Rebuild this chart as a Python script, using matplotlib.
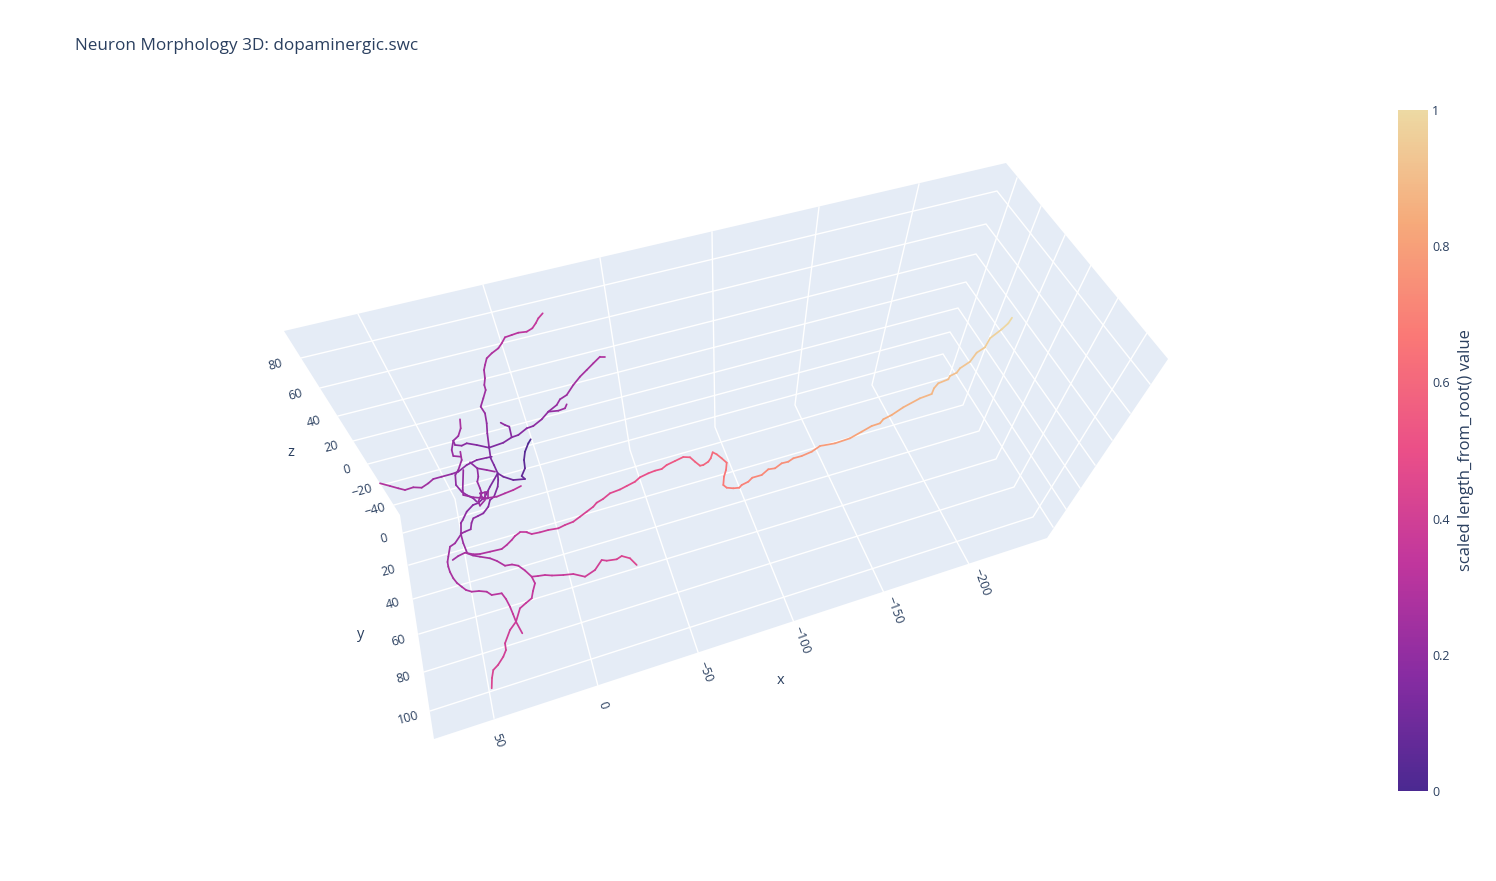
import numpy as np
import matplotlib
matplotlib.use("Agg")
import matplotlib.pyplot as plt
from matplotlib.collections import LineCollection
from matplotlib.colors import LinearSegmentedColormap, Normalize
from matplotlib.cm import ScalarMappable

plt.rcParams['font.family'] = ['Open Sans', 'DejaVu Sans']

TITLE = "Neuron Morphology 3D: dopaminergic.swc"
INK = "#2a3f5f"
WALL = "#E5ECF6"
AGSUNSET = ["#4b2991", "#872ca2", "#c0369d", "#ea4f88", "#fa7876", "#f6a97a", "#edd9a3"]

# Scene outline, as projected on the picture (pixels)
wall_x = [284, 1006, 1168, 1047, 434, 400]
wall_y = [331, 163, 359, 538, 739, 515]

# Grid lines, projected: each has start, bend on the wall seam, end
x_ticks = ["50", "0", "\u221250", "\u2212100", "\u2212150", "\u2212200"]
x_grid_ax = [358, 483, 600, 712, 819, 919]
x_grid_ay = [314, 285, 258, 232, 207, 184]
x_grid_bx = [455, 543, 630, 715, 795, 872]
x_grid_by = [499, 475, 450, 427, 405, 385]
x_grid_cx = [494, 598, 699, 795, 885, 970]
x_grid_cy = [718, 686, 655, 625, 595, 566]
x_label_x = [498, 603, 705, 802, 895, 982]
x_label_y = [740, 705, 672, 640, 610, 582]

y_ticks = ["0", "20", "40", "60", "80", "100"]
y_grid_ax = [403, 409, 413, 419, 424, 430]
y_grid_ay = [533, 565, 599, 634, 672, 711]
y_grid_bx = [949, 963, 979, 996, 1014, 1033]
y_grid_by = [377, 405, 431, 459, 487, 517]
y_grid_cx = [1017, 1041, 1065, 1091, 1118, 1147]
y_grid_cy = [178, 206, 235, 265, 298, 333]
y_label_x = [384, 388, 393, 398, 403, 408]
y_label_y = [539, 571, 604, 641, 678, 718]

z_ticks = ["80", "60", "40", "20", "0", "\u221220", "\u221240"]
z_grid_ax = [301, 320, 338, 353, 368, 382, 394]
z_grid_ay = [358, 388, 416, 441, 464, 485, 505]
z_grid_bx = [997, 986, 976, 966, 958, 950, 943]
z_grid_by = [191, 224, 254, 282, 308, 332, 354]
z_grid_cx = [1150, 1130, 1112, 1095, 1080, 1066, 1053]
z_grid_cy = [384, 413, 440, 465, 488, 509, 527]
z_label_x = [275, 295, 314, 331, 347, 362, 375]
z_label_y = [365, 395, 422, 447, 470, 491, 510]

# Neuron branches, with scaled length_from_root
long_x = [452.7, 458.3, 465, 473.3, 480, 490, 501.7, 506.7, 511.7, 515, 520, 526.7, 531.7, 540, 548.3, 558.3, 565,
          573.3, 580, 586.7, 593.3, 596.7, 603, 610, 620, 626.7, 635, 640, 648.3, 655, 661.7, 666.7, 675, 683.3, 690,
          695, 700, 703.3, 708.3, 710.7, 712.7, 716.7, 721.7, 726.7, 726, 724, 723.3, 726.7, 733.3, 739.3, 741.7,
          748.3, 752.3, 761.7, 768.3, 775, 781.7, 788.3, 793.3, 801.7, 811.7, 820, 835, 850, 861.7, 871.7, 880, 883.3,
          891.7, 903.3, 920, 931.7, 934, 938.3, 948.3, 950, 956.7, 960, 970, 976.7, 985, 990, 1001.7, 1008.3, 1012]
long_y = [560, 556, 552.7, 554.3, 554, 551.7, 549, 545, 540, 536, 532.3, 532.3, 534, 532.3, 530, 528.3, 525,
          521.7, 516.7, 511.7, 506.7, 502.7, 499, 493.3, 489.5, 486, 481.7, 477.3, 473.3, 470.7, 469, 465, 461, 457, 457.3,
          461.7, 465.7, 465, 461.7, 458.3, 452.3, 454.3, 458.3, 462.7, 470, 476.7, 485, 487.7, 488.3, 487.7, 485,
          481.7, 477.7, 475, 469.3, 468.3, 463.3, 461.7, 458.3, 456, 451.7, 446, 443.3, 438.3, 431.7, 426, 423.3, 419.3,
          415, 407.3, 398.3, 394, 388.3, 383.3, 379.3, 376, 372.7, 368.3, 361.7, 352.7, 347.3, 338.3, 329.3, 323.3, 317.7]
long_v = [.24, .25, .26, .27, .28, .29, .30, .31, .32, .33, .34, .35, .35, .36, .37, .38, .39,
          .40, .41, .42, .43, .43, .44, .45, .46, .47, .48, .49, .50, .51, .52, .53, .54, .55, .56,
          .57, .58, .585, .59, .60, .61, .62, .63, .64, .65, .66, .67, .675, .68, .69, .695,
          .70, .71, .72, .73, .735, .74, .75, .755, .76, .77, .78, .79, .80, .81, .82, .83, .835,
          .84, .85, .87, .88, .885, .89, .90, .905, .91, .92, .93, .94, .95, .96, .98, .99, 1.0]

top_x = [542.7, 538.3, 535.7, 532.3, 526.7, 518.3, 511.7, 505, 501.7, 498.3, 491.7, 486.7, 485, 484, 485, 484.3, 485.7,
         483.3, 480.7, 485, 486.7, 487.3, 489]
top_y = [313.3, 318.3, 323.3, 328.3, 331.7, 332.7, 335, 337.3, 343.3, 348.3, 353.3, 358.3, 365, 370, 378.3, 385, 390,
         398.3, 406.7, 413.3, 423.3, 433.3, 446.7]
top_v = [.36, .355, .35, .34, .33, .32, .31, .30, .295, .29, .28, .27, .265, .26, .25, .245, .24, .23, .22, .21, .20, .19, .18]

trunk_x = [489, 490.7, 494, 497.7, 498.2, 497.7, 494, 490, 488.3, 483.3, 478, 473.3, 471.5, 470.7, 465, 461.7, 455, 450, 448.3, 447.5, 448.3,
           450, 453.3, 457, 461.7, 466, 471.7, 479, 486.7, 491.7, 501.7, 506, 510, 513, 516, 522.3]
trunk_y = [446.7, 458.3, 465, 473.3, 480, 486.7, 496.7, 500, 506.7, 513.3, 516, 518.3, 523, 529.3, 531.7, 533.3, 543.3, 546.7, 556.7, 562, 566.7,
           572, 578.3, 583, 586.7, 590, 591.7, 591, 591.7, 595, 593.3, 599, 606.7, 614, 621.7, 633.3]
trunk_v = [.16, .15, .14, .13, .135, .14, .15, .16, .17, .18, .185, .19, .195, .20, .21, .22, .23, .24, .25, .255, .26,
           .265, .27, .275, .28, .285, .29, .295, .30, .31, .32, .33, .34, .35, .36, .38]

lower_x = [497.7, 490, 485, 478.3, 473, 466.7, 462.7, 460.7, 460.7, 463.3, 467.3, 473, 480, 490, 497, 505, 512, 518.3, 525, 531.7]
lower_y = [473.3, 486.7, 496.7, 503, 505, 511.7, 520, 523.3, 533.3, 543.3, 553.3, 555.5, 556.7, 558.3, 561, 565.7, 564.5, 565.7, 570.5, 576.7]
lower_v = [.13, .14, .15, .16, .17, .18, .19, .20, .21, .22, .23, .24, .25, .27, .28, .29, .30, .31, .32, .33]

south_x = [531.7, 535, 533, 531.7, 526, 520, 516, 510, 505, 506, 503.3, 498, 493.3, 492, 491.7]
south_y = [576.7, 583.3, 591, 598.3, 603, 608.3, 621.7, 630, 643.3, 650, 656.7, 665, 670, 678, 688.3]
south_v = [.33, .34, .345, .35, .36, .365, .37, .38, .39, .395, .40, .41, .42, .43, .44]

east_x = [531.7, 538, 545, 552, 563.3, 573.3, 585, 595, 601.7, 606.7, 616.7, 621.7, 630, 636.7]
east_y = [576.7, 576, 575, 575.5, 575, 574, 576.7, 570, 560, 560.7, 559.3, 556, 558.3, 565]
east_v = [.33, .34, .345, .35, .36, .37, .38, .39, .40, .41, .42, .43, .44, .45]

ne_x = [489, 503.3, 511.7, 518.3, 526.7, 533.3, 541.7, 548.3, 556.7, 560, 566.7, 573.3, 580, 586.7, 593.3, 600, 605]
ne_y = [447.7, 442.7, 437.3, 435, 428.3, 426, 419.3, 411.7, 405, 399.3, 395, 385, 376.7, 370, 363.3, 356.7, 356.7]
ne_v = [.14, .15, .16, .165, .17, .18, .19, .20, .21, .22, .23, .24, .25, .26, .27, .28, .285]

ne_sub_x = [548.3, 558.3, 565, 566.7]
ne_sub_y = [411.7, 410.7, 408.3, 404.3]
ne_sub_v = [.20, .22, .23, .24]

nw_sub_x = [511.7, 509.3, 505, 500.7]
nw_sub_y = [437.3, 426.7, 425, 422.7]
nw_sub_v = [.16, .18, .19, .20]

west_x = [489, 476.7, 466.7, 461.7, 455, 453.3, 458.3, 460.7, 460]
west_y = [447.7, 445, 443.3, 445.7, 445, 440.7, 436, 428.3, 419.3]
west_v = [.14, .16, .17, .18, .19, .20, .22, .25, .28]

loop_x = [453.3, 451.7, 453.3, 460.7]
loop_y = [440.7, 450, 456, 456.7]
loop_v = [.20, .21, .22, .23]

drop_x = [460.3, 461.7, 458.3, 455.3, 456, 461.7, 466.7, 473.3, 476.7]
drop_y = [451.7, 460, 470, 475, 485, 491.7, 495, 498.3, 501.7]
drop_v = [.25, .24, .22, .20, .19, .18, .18, .18, .17]

lowrun_x = [463.3, 462.7, 463.3, 473.3, 485, 496.7, 505, 513.3, 521]
lowrun_y = [470, 490, 495, 497.3, 498.3, 496.7, 493.3, 490, 486]
lowrun_v = [.20, .21, .22, .23, .24, .26, .28, .31, .33]

far_x = [380, 390, 398.3, 405, 413.3, 421.7, 428.3, 433.3, 441.7, 451.7, 458.3, 466.7, 476.7, 486.7, 491.7]
far_y = [483.3, 486, 488.3, 490, 487.3, 487.7, 483.3, 479, 476.7, 474, 471.7, 465, 460, 457.7, 456.7]
far_v = [.30, .29, .28, .27, .26, .25, .24, .23, .22, .20, .19, .18, .17, .15, .14]

stub_x = [470, 477.3, 486.7, 495]
stub_y = [462.3, 468.3, 470, 471.7]
stub_v = [.17, .20, .22, .24]

mid_x = [477.3, 478.3, 477.3, 480, 481.7, 478.3, 480, 485]
mid_y = [468.3, 476.7, 481.7, 488.3, 493.3, 501.7, 505.7, 500]
mid_v = [.20, .20, .21, .22, .22, .23, .23, .24]

knot_x = [480, 488.3, 488.3, 483.3, 480]
knot_y = [493.3, 491.7, 498.3, 499, 493.3]
knot_v = [.22, .23, .24, .24, .22]

knot2_x = [485, 485]
knot2_y = [491.7, 499]
knot2_v = [.23, .24]

root_x = [497.7, 503.3, 513.3, 525, 521.7, 525, 524, 525, 528.3, 530.7]
root_y = [473.3, 476.7, 480, 479, 476, 468.3, 460, 451.7, 443.3, 439.3]
root_v = [.13, .12, .10, .08, .07, .06, .05, .04, .02, .01]

BRANCHES = [
    (top_x, top_y, top_v), (trunk_x, trunk_y, trunk_v), (lower_x, lower_y, lower_v),
    (south_x, south_y, south_v), (east_x, east_y, east_v), (ne_x, ne_y, ne_v),
    (ne_sub_x, ne_sub_y, ne_sub_v), (nw_sub_x, nw_sub_y, nw_sub_v), (west_x, west_y, west_v),
    (loop_x, loop_y, loop_v), (drop_x, drop_y, drop_v), (lowrun_x, lowrun_y, lowrun_v),
    (far_x, far_y, far_v), (stub_x, stub_y, stub_v), (mid_x, mid_y, mid_v),
    (knot_x, knot_y, knot_v), (knot2_x, knot2_y, knot2_v), (root_x, root_y, root_v),
    (long_x, long_y, long_v),
]

cbar_ticks = [0, 0.2, 0.4, 0.6, 0.8, 1]
cbar_labels = ["0", "0.2", "0.4", "0.6", "0.8", "1"]

W, H = 1496, 881
fig = plt.figure(figsize=(W / 100, H / 100), dpi=100, facecolor="white")
ax = fig.add_axes([0, 0, 1, 1])
ax.set_xlim(0, W)
ax.set_ylim(H, 0)
ax.axis("off")

ax.fill(wall_x, wall_y, color=WALL, lw=0, zorder=1)


def grid(ax_, ay, bx, by, cx, cy):
    for a, b, c, d, e, f in zip(ax_, ay, bx, by, cx, cy):
        ax.plot([a, c, e], [b, d, f], color="white", lw=1.0, solid_joinstyle="miter", zorder=2)


grid(x_grid_ax, x_grid_ay, x_grid_bx, x_grid_by, x_grid_cx, x_grid_cy)
grid(y_grid_ax, y_grid_ay, y_grid_bx, y_grid_by, y_grid_cx, y_grid_cy)
grid(z_grid_ax, z_grid_ay, z_grid_bx, z_grid_by, z_grid_cx, z_grid_cy)

cmap = LinearSegmentedColormap.from_list("agsunset", AGSUNSET)
norm = Normalize(0, 1)
for bx_, by_, bv_ in BRANCHES:
    pts = np.column_stack([bx_, by_])
    segs = np.stack([pts[:-1], pts[1:]], axis=1)
    vals = (np.asarray(bv_)[:-1] + np.asarray(bv_)[1:]) / 2
    lc = LineCollection(segs, cmap=cmap, norm=norm, linewidths=1.25, capstyle="round", zorder=3)
    lc.set_array(vals)
    ax.add_collection(lc)

TICK = 9.0
for s, px, py in zip(x_ticks, x_label_x, x_label_y):
    ax.text(px, py, s, fontsize=TICK, color=INK, rotation=-70, rotation_mode="anchor", ha="center", va="center")
for s, px, py in zip(y_ticks, y_label_x, y_label_y):
    ax.text(px, py, s, fontsize=TICK, color=INK, rotation=15, rotation_mode="anchor", ha="center", va="center")
for s, px, py in zip(z_ticks, z_label_x, z_label_y):
    ax.text(px, py, s, fontsize=TICK, color=INK, rotation=15, rotation_mode="anchor", ha="center", va="center")
ax.text(781, 681, "x", fontsize=10.5, color=INK, ha="center", va="center")
ax.text(361, 634, "y", fontsize=10.5, color=INK, ha="center", va="center")
ax.text(291, 453, "z", fontsize=10.5, color=INK, ha="center", va="center")

ax.text(75, 45.5, TITLE, fontsize=12.3, color=INK, ha="left", va="center")

cax = fig.add_axes([1398 / W, 1 - 791 / H, 30 / W, 681 / H])
cb = fig.colorbar(ScalarMappable(norm=norm, cmap=cmap), cax=cax)
cb.outline.set_visible(False)
cb.set_ticks(cbar_ticks, labels=cbar_labels)
cb.ax.tick_params(length=0, pad=3, labelsize=TICK, labelcolor=INK)
fig.text(1466 / W, 1 - 450.5 / H, "scaled length_from_root() value", rotation=90, fontsize=12.0, color=INK,
         ha="center", va="center")

fig.savefig("out.png", dpi=100)
